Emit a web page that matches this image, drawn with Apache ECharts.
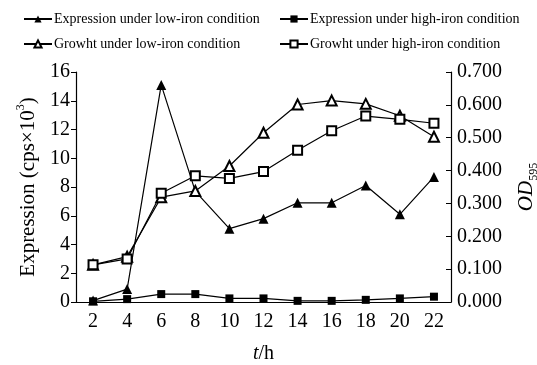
<!DOCTYPE html>
<html>
<head>
<meta charset="utf-8">
<script src="https://cdn.jsdelivr.net/npm/echarts@6/dist/echarts.min.js"></script>
<style>
  html, body { margin: 0; padding: 0; background: #fff; }
  #chart { width: 537px; height: 365px; }
</style>
</head>
<body>
<div id="chart"></div>
<script>
const hours = ['2', '4', '6', '8', '10', '12', '14', '16', '18', '20', '22'];

// expression, left axis (cps x 10^3)
const exprLow = [0.1, 0.9, 15.1, 7.7, 5.1, 5.8, 6.9, 6.9, 8.1, 6.1, 8.7];
const exprHigh = [0.05, 0.2, 0.55, 0.55, 0.25, 0.25, 0.08, 0.08, 0.15, 0.25, 0.37];

// growth, right axis (OD595)
const growthLow = [0.113, 0.138, 0.319, 0.338, 0.414, 0.515, 0.601, 0.613, 0.603, 0.567, 0.503];
const growthHigh = [0.113, 0.131, 0.331, 0.384, 0.376, 0.397, 0.462, 0.521, 0.566, 0.556, 0.544];

const leftTicks = [0, 2, 4, 6, 8, 10, 12, 14, 16];
const rightTicks = [0, 0.1, 0.2, 0.3, 0.4, 0.5, 0.6, 0.7];

const font = 'Liberation Serif';
const black = '#000';

const lineSeries = (name, data, symbol, yAxisIndex, size) => ({
  name,
  type: 'line',
  data,
  yAxisIndex,
  symbol,
  symbolSize: size,
  showSymbol: true,
  lineStyle: { color: black, width: 1.2 },
  itemStyle: { color: black, borderWidth: 1 },
  emphasis: { disabled: true },
  animation: false,
});

const chart = echarts.init(document.getElementById('chart'));

const legendBase = {
  orient: 'vertical',
  top: 7,
  itemWidth: 28,
  itemHeight: 9,
  itemGap: 11,
  textStyle: { fontFamily: font, fontSize: 14, color: black, padding: [0, 0, 0, -3] },
};

chart.setOption({
  backgroundColor: '#fff',
  textStyle: { fontFamily: font },
  legend: [
    Object.assign({}, legendBase, {
      left: 18,
      data: ['Expression under low-iron condition', 'Growht under low-iron condition'],
    }),
    Object.assign({}, legendBase, {
      left: 274,
      data: ['Expression under high-iron condition', 'Growht under high-iron condition'],
    }),
  ],
  grid: { left: 76, right: 86, top: 72, bottom: 63, outerBoundsMode: 'none', containLabel: false },
  xAxis: {
    type: 'category',
    data: hours,
    boundaryGap: true,
    name: '{i|t}/h',
    nameLocation: 'middle',
    nameGap: 42,
    nameTextStyle: {
      fontFamily: font, fontSize: 20, color: black,
      rich: { i: { fontFamily: font, fontSize: 20, fontStyle: 'italic', color: black } },
    },
    axisLine: { lineStyle: { color: black, width: 1.2 } },
    axisTick: { inside: true, length: 5, interval: 0, lineStyle: { color: black } },
    axisLabel: { fontFamily: font, fontSize: 20, color: black, margin: 10, interval: 0 },
    splitLine: { show: false },
  },
  yAxis: [
    {
      type: 'value',
      min: leftTicks[0],
      max: leftTicks[leftTicks.length - 1],
      interval: 2,
      position: 'left',
      name: '{m|Expression (cps×10}{sup|3}{m|)}',
      nameLocation: 'middle',
      nameRotate: 90,
      nameGap: 36,
      nameTextStyle: {
        fontFamily: font, fontSize: 21, color: black,
        rich: {
          m: { fontFamily: font, fontSize: 21, color: black, lineHeight: 24, verticalAlign: 'bottom' },
          sup: { fontFamily: font, fontSize: 12, color: black, lineHeight: 14, verticalAlign: 'top' },
        },
      },
      axisLine: { show: true, lineStyle: { color: black, width: 1.2 } },
      axisTick: { show: true, length: 5, lineStyle: { color: black } },
      axisLabel: { fontFamily: font, fontSize: 20, color: black, margin: 6 },
      splitLine: { show: false },
    },
    {
      type: 'value',
      min: rightTicks[0],
      max: rightTicks[rightTicks.length - 1],
      interval: 0.1,
      position: 'right',
      name: '{od|OD}{sub|595}',
      nameLocation: 'middle',
      nameRotate: 90,
      nameGap: 65,
      nameTextStyle: {
        fontFamily: font, fontSize: 20, color: black,
        rich: {
          od: { fontFamily: font, fontSize: 21, fontStyle: 'italic', color: black, lineHeight: 24, verticalAlign: 'top' },
          sub: { fontFamily: font, fontSize: 12, color: black, lineHeight: 12, verticalAlign: 'bottom' },
        },
      },
      axisLine: { show: true, lineStyle: { color: black, width: 1.2 } },
      axisTick: { show: true, inside: true, length: 5, lineStyle: { color: black } },
      axisLabel: {
        fontFamily: font, fontSize: 20, color: black, margin: 6,
        formatter: (v) => v.toFixed(3),
      },
      splitLine: { show: false },
    },
  ],
  series: [
    lineSeries('Expression under low-iron condition', exprLow, 'triangle', 0, 10),
    lineSeries('Expression under high-iron condition', exprHigh, 'rect', 0, 8),
    lineSeries('Growht under low-iron condition', growthLow, 'emptyTriangle', 1, 10),
    lineSeries('Growht under high-iron condition', growthHigh, 'emptyRect', 1, 9),
  ],
});
</script>
</body>
</html>
